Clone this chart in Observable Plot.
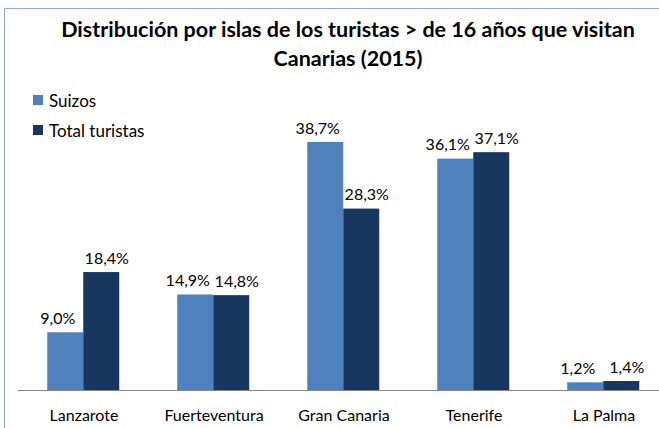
<!DOCTYPE html>
<html>
<head>
<meta charset="utf-8">
<script src="https://cdn.jsdelivr.net/npm/d3@7"></script>
<script src="https://cdn.jsdelivr.net/npm/@observablehq/plot@0.6"></script>
<style>
  html, body { margin: 0; padding: 0; background: #fff; }
  #wrap { position: relative; width: 659px; height: 428px; overflow: hidden; font-family: Lato, "Open Sans", sans-serif; }
  #border { position: absolute; left: 4px; top: 8px; width: 688px; height: 440px; border: 1px solid #8eaadb; box-sizing: border-box; }
  #title { position: absolute; left: 4px; width: 688px; top: 15px; text-align: center; font-weight: bold; font-size: 21.5px; line-height: 29px; color: #000; }
  #legend { position: absolute; left: 33px; top: 89px; font-size: 17px; color: #000; }
  .li { display: flex; align-items: center; height: 22px; margin-bottom: 8px; }
  .sw { width: 10px; height: 10px; margin-right: 6px; }
  #chart { position: absolute; left: 0; top: 0; }
</style>
</head>
<body>
<div id="wrap">
  <div id="border"></div>
  <div id="chart"></div>
  <div id="title">Distribución por islas de los turistas &gt; de 16 años que visitan<br>Canarias (2015)</div>
  <div id="legend"></div>
</div>
<script>
const islands = ["Lanzarote", "Fuerteventura", "Gran Canaria", "Tenerife", "La Palma"];
const seriesNames = ["Suizos", "Total turistas"];
const suizos = [9.0, 14.9, 38.7, 36.1, 1.2];
const total = [18.4, 14.8, 28.3, 37.1, 1.4];
const colors = ["#4f81bd", "#17375e"];

const data = [];
islands.forEach((isl, i) => {
  data.push({island: isl, series: seriesNames[0], value: suizos[i]});
  data.push({island: isl, series: seriesNames[1], value: total[i]});
});
const fmt = v => v.toFixed(1).replace(".", ",") + "%";

const W = 659, ML = 17.75, MR = -11.25, PI = 0.438, PO = 0.219;
const step = (W - MR - ML) / islands.length;
const gapHalf = step * PI / 2 + 0.5;

const chart = Plot.plot({
  width: W,
  height: 428,
  marginLeft: ML,
  marginRight: MR,
  marginTop: 133.6,
  marginBottom: 38,
  style: {fontFamily: "Lato, 'Open Sans', sans-serif", fontSize: "16px", color: "#000", background: "transparent"},
  fx: {domain: islands, paddingInner: PI, paddingOuter: PO, label: null},
  x: {domain: seriesNames, padding: 0, axis: null},
  y: {domain: [0, 40], axis: null},
  color: {domain: seriesNames, range: colors},
  marks: [
    Plot.ruleY(islands, {fx: d => d, y: () => 0, stroke: "#868686", strokeWidth: 1, insetLeft: -gapHalf, insetRight: -gapHalf}),
    Plot.barY(data, {fx: "island", x: "series", y: "value", fill: "series"}),
    Plot.text(data.filter(d => d.series === seriesNames[0]), {fx: "island", x: "series", y: "value", text: d => fmt(d.value), dy: -14, dx: -8, fontSize: 16, fill: "#000"}),
    Plot.text(data.filter(d => d.series === seriesNames[1]), {fx: "island", x: "series", y: "value", text: d => fmt(d.value), dy: -14, dx: 5, fontSize: 16, fill: "#000"}),
    Plot.axisFx({anchor: "bottom", tickSize: 0, tickPadding: 19, fontSize: 16, label: null})
  ]
});
document.getElementById("chart").appendChild(chart);

const legend = document.getElementById("legend");
seriesNames.forEach((s, i) => {
  const row = document.createElement("div");
  row.className = "li";
  const sw = document.createElement("div");
  sw.className = "sw";
  sw.style.background = colors[i];
  const t = document.createElement("span");
  t.textContent = s;
  row.appendChild(sw); row.appendChild(t);
  legend.appendChild(row);
});
</script>
</body>
</html>
